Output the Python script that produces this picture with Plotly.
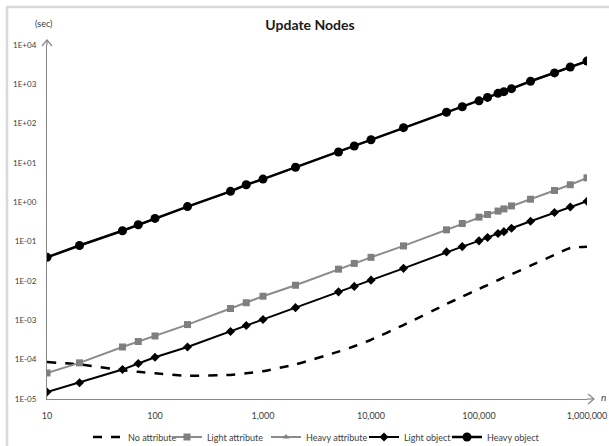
import plotly.graph_objects as go

# Number of nodes updated
n_values = [10, 20, 50, 70, 100, 200, 500, 700, 1000, 2000, 5000, 7000, 10000,
            20000, 50000, 70000, 100000, 120000, 150000, 170000, 200000,
            300000, 500000, 700000, 1000000]

# Update time in seconds for each configuration
no_attribute = [8.7e-5, 7.6e-5, 5.4e-5, 4.9e-5, 4.5e-5, 3.9e-5, 4.1e-5, 4.5e-5,
                5.1e-5, 7.6e-5, 1.6e-4, 2.2e-4, 3.2e-4, 7.6e-4, 2.6e-3, 4.0e-3,
                6.3e-3, 7.9e-3, 1.05e-2, 1.23e-2, 1.48e-2, 2.45e-2, 4.6e-2, 6.9e-2,
                7.4e-2]
light_attribute = [4.6e-5, 8.3e-5, 2.1e-4, 2.9e-4, 4.0e-4, 7.8e-4, 2.0e-3, 2.8e-3,
                   4.1e-3, 7.8e-3, 2.0e-2, 2.8e-2, 4.0e-2, 7.8e-2, 0.20, 0.29,
                   0.42, 0.49, 0.60, 0.68, 0.81, 1.2, 2.0, 2.8, 4.2]
heavy_attribute = [0.04, 0.08, 0.19, 0.27, 0.39, 0.78, 1.9, 2.8, 3.9, 7.8, 19, 27,
                   39, 79, 195, 270, 380, 465, 590, 650, 775, 1200, 1950, 2750, 3900]
light_object = [1.5e-5, 2.6e-5, 5.6e-5, 8.0e-5, 1.15e-4, 2.1e-4, 5.2e-4, 7.4e-4,
                1.05e-3, 2.1e-3, 5.3e-3, 7.3e-3, 1.05e-2, 2.1e-2, 5.5e-2, 7.5e-2,
                0.105, 0.128, 0.162, 0.18, 0.22, 0.33, 0.55, 0.76, 1.07]
heavy_object = [0.04, 0.08, 0.19, 0.27, 0.39, 0.78, 1.9, 2.8, 3.9, 7.8, 19, 27,
                39, 79, 195, 270, 380, 465, 590, 650, 775, 1200, 1950, 2750, 3900]

y_tickvals = [1e-5, 1e-4, 1e-3, 1e-2, 1e-1, 1e0, 1e1, 1e2, 1e3, 1e4]
y_ticktext = ["1E-05", "1E-04", "1E-03", "1E-02", "1E-01", "1E+00",
              "1E+01", "1E+02", "1E+03", "1E+04"]
x_tickvals = [10, 100, 1000, 10000, 100000, 1000000]
x_ticktext = ["10", "100", "1,000", "10,000", "100,000", "1,000,000"]

FONT = "Lato, 'Open Sans', sans-serif"
AXIS_GRAY = "#868686"
TEXT_GRAY = "#404040"

fig = go.Figure()

fig.add_trace(go.Scatter(
    x=n_values, y=no_attribute, name="No attribute", mode="lines", legend="legend",
    line=dict(color="black", width=2.5, dash="dash", shape="spline", smoothing=0.6),
))
fig.add_trace(go.Scatter(
    x=n_values, y=light_attribute, name="Light attribute", mode="lines+markers",
    legend="legend2",
    line=dict(color="#8c8c8c", width=2),
    marker=dict(symbol="square", size=7, color="#7f7f7f"),
))
fig.add_trace(go.Scatter(
    x=n_values, y=heavy_attribute, name="Heavy attribute", mode="lines+markers",
    legend="legend3",
    line=dict(color="#8c8c8c", width=2),
    marker=dict(symbol="triangle-up", size=6, color="#7f7f7f"),
))
fig.add_trace(go.Scatter(
    x=n_values, y=light_object, name="Light object", mode="lines+markers",
    legend="legend4",
    line=dict(color="black", width=2),
    marker=dict(symbol="diamond", size=7, color="black"),
))
fig.add_trace(go.Scatter(
    x=n_values, y=heavy_object, name="Heavy object", mode="lines+markers",
    legend="legend5",
    line=dict(color="black", width=2.5),
    marker=dict(symbol="circle", size=9, color="black"),
))

# plot area in pixels: left 47, right 587, top 45, bottom 399
PW, PH = 540.0, 354.0

shapes = [
    # outer chart border
    dict(type="rect", xref="paper", yref="paper",
         x0=(7 - 47) / PW, x1=(620 - 47) / PW,
         y0=(399 - 460) / PH, y1=(399 - 7) / PH,
         line=dict(color="#d9d9d9", width=2.5), fillcolor="rgba(0,0,0,0)",
         layer="below"),
    # arrowhead on the x axis
    dict(type="path", xref="paper", yref="paper",
         path=f"M {1 + 1 / PW} {5 / PH} L {1 + 7 / PW} 0 L {1 + 1 / PW} {-5 / PH}",
         line=dict(color=AXIS_GRAY, width=1.2)),
    dict(type="line", xref="paper", yref="paper",
         x0=1, x1=1 + 7 / PW, y0=0, y1=0,
         line=dict(color=AXIS_GRAY, width=1.2)),
    # arrowhead on the y axis
    dict(type="path", xref="paper", yref="paper",
         path=f"M {-5 / PW} {1 - 1 / PH} L 0 {1 + 5 / PH} L {5 / PW} {1 - 1 / PH}",
         line=dict(color=AXIS_GRAY, width=1.2)),
    dict(type="line", xref="paper", yref="paper",
         x0=0, x1=0, y0=1, y1=1 + 5 / PH,
         line=dict(color=AXIS_GRAY, width=1.2)),
]

annotations = [
    dict(text="(sec)", xref="paper", yref="paper",
         x=(43 - 47) / PW, y=(399 - 23) / PH, showarrow=False,
         xanchor="center", yanchor="middle",
         font=dict(family=FONT, size=9, color=TEXT_GRAY)),
    dict(text="<i>n</i>", xref="paper", yref="paper",
         x=(603 - 47) / PW, y=(399 - 397) / PH, showarrow=False,
         xanchor="center", yanchor="middle",
         font=dict(family=FONT, size=10, color=TEXT_GRAY)),
]


def legend_at(px_left):
    """One single-entry legend box whose left edge sits at px_left."""
    return dict(orientation="h", x=(px_left - 47) / PW, xref="paper",
                xanchor="left", y=(399 - 437) / PH, yref="paper",
                yanchor="middle", font=dict(family=FONT, size=9, color=TEXT_GRAY),
                bgcolor="rgba(0,0,0,0)", itemwidth=30)


fig.update_layout(
    width=609, height=446,
    margin=dict(l=47, r=22, t=45, b=47, autoexpand=False),
    paper_bgcolor="white", plot_bgcolor="white",
    title=dict(text="<b>Update Nodes</b>", x=310 / 609, xref="container",
               xanchor="center", y=1 - 25 / 446, yref="container",
               yanchor="middle",
               font=dict(family=FONT, size=14, color="#1a1a1a")),
    font=dict(family=FONT, size=9, color=TEXT_GRAY),
    showlegend=True,
    legend=legend_at(88),
    legend2=legend_at(167),
    legend3=legend_at(266),
    legend4=legend_at(364),
    legend5=legend_at(447),
    shapes=shapes,
    annotations=annotations,
)

fig.update_xaxes(
    type="log", range=[1, 6], showgrid=False, zeroline=False,
    showline=True, linecolor=AXIS_GRAY, linewidth=1.2,
    tickvals=x_tickvals, ticktext=x_ticktext, ticks="",
    ticklabelstandoff=8, tickangle=0,
    tickfont=dict(family=FONT, size=9, color=TEXT_GRAY),
)
fig.update_yaxes(
    type="log", range=[-5, 4], showgrid=False, zeroline=False,
    showline=True, linecolor=AXIS_GRAY, linewidth=1.2,
    tickvals=y_tickvals, ticktext=y_ticktext, ticks="",
    ticklabelstandoff=8,
    tickfont=dict(family=FONT, size=8, color=TEXT_GRAY),
)

fig.write_html("out.html")
